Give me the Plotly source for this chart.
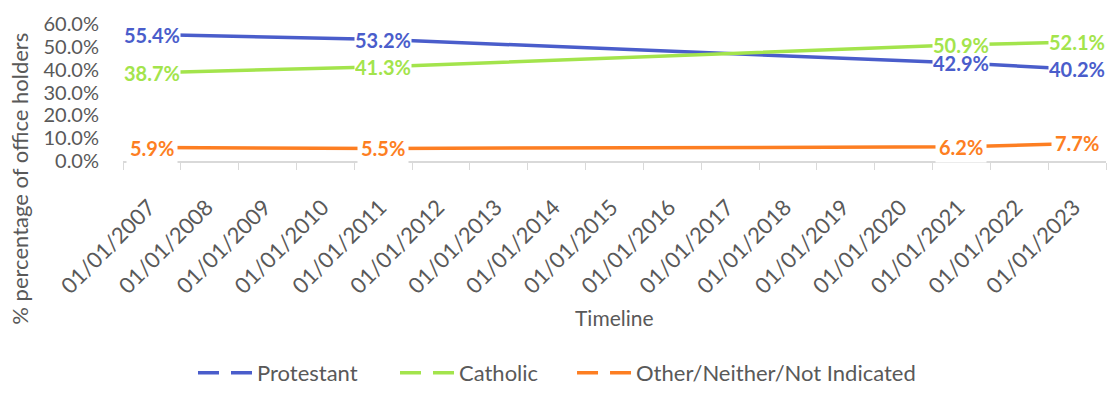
import plotly.graph_objects as go

# Years shown on the timeline axis (one category per year)
years = list(range(2007, 2024))
tick_labels = [f"01/01/{y}" for y in years]

# Survey dates with recorded values
dates = ["01/01/2007", "01/01/2011", "01/01/2021", "01/01/2023"]
protestant = [55.4, 53.2, 42.9, 40.2]
catholic = [38.7, 41.3, 50.9, 52.1]
other = [5.9, 5.5, 6.2, 7.7]

series = [
    ("Protestant", protestant, "#4A5DCB", "legend"),
    ("Catholic", catholic, "#A3E44C", "legend2"),
    ("Other/Neither/Not Indicated", other, "#FD7E22", "legend3"),
]

FONT = "Lato"
GREY = "#595959"

fig = go.Figure()
for name, vals, color, leg in series:
    fig.add_trace(go.Scatter(
        x=dates, y=vals, mode="lines", name=name,
        line=dict(color=color, width=3.5), showlegend=False,
    ))
    # legend entry drawn with a dashed sample line
    fig.add_trace(go.Scatter(
        x=[None], y=[None], mode="lines", name=name, legend=leg,
        line=dict(color=color, width=3.5, dash="21px,12px"),
    ))

# value labels on a white box; Protestant labels drawn last so they sit on top
annotations = []
for name, vals, color, _ in reversed(series):
    box = dict(borderpad=3) if vals is other else dict(borderpad=0, height=18)
    for d, v in zip(dates, vals):
        annotations.append(dict(
            x=d, y=v, xref="x", yref="y", text=f"{v:.1f}%", showarrow=False,
            font=dict(family=FONT, size=20, color=color, weight="bold"),
            bgcolor="white", **box,
        ))

# axis titles
annotations.append(dict(
    x=-0.1048, y=-0.129, xref="paper", yref="paper",
    xanchor="center", yanchor="middle",
    text="% percentage of office holders", textangle=-90, showarrow=False,
    font=dict(family=FONT, size=22, color=GREY),
))
annotations.append(dict(
    x=0.5, y=-1.144, xref="paper", yref="paper",
    xanchor="center", yanchor="middle", text="Timeline",
    showarrow=False, font=dict(family=FONT, size=21, color=GREY),
))

legend_style = dict(
    orientation="h", y=-1.70, xanchor="left", yanchor="bottom",
    font=dict(family=FONT, size=22, color=GREY), itemwidth=54,
)

fig.update_layout(
    width=1110, height=397,
    margin=dict(l=123, r=4, t=24, b=234),
    paper_bgcolor="white", plot_bgcolor="white",
    font=dict(family=FONT, size=20, color=GREY),
    annotations=annotations,
    legend=dict(x=0.0712, **legend_style),
    legend2=dict(x=0.2767, **legend_style),
    legend3=dict(x=0.4568, **legend_style),
    xaxis=dict(
        type="category", categoryorder="array", categoryarray=tick_labels,
        tickvals=tick_labels, ticktext=tick_labels,
        range=[-0.5, len(tick_labels) - 0.5], tickson="boundaries",
        tickangle=-45, ticks="outside", ticklen=7, tickcolor="#D9D9D9",
        showline=True, linecolor="#D9D9D9", linewidth=1.5,
        showgrid=False, zeroline=False,
        ticklabelstandoff=23, ticklabelshift=-3,
        tickfont=dict(family=FONT, size=22, color=GREY),
    ),
    yaxis=dict(
        range=[0, 60], dtick=10, tickformat=".1f", ticksuffix="%",
        showgrid=False, zeroline=False, showline=False, ticks="",
        ticklabelstandoff=23,
        tickfont=dict(family=FONT, size=20, color=GREY),
    ),
)

fig.write_html("out.html")
